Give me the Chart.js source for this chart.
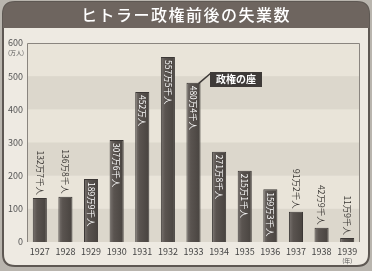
<!DOCTYPE html>
<html>
<head>
<meta charset="utf-8">
<script src="https://cdn.jsdelivr.net/npm/chart.js@4"></script>
<style>
  html, body { margin: 0; padding: 0; background: #b9b5ae; }
  #wrap { width: 372px; height: 271px; }
</style>
</head>
<body>
<div id="wrap"><canvas id="chart" width="372" height="271"></canvas></div>
<script>
const years = ['1927', '1928', '1929', '1930', '1931', '1932', '1933', '1934', '1935', '1936', '1937', '1938', '1939'];
const unemployed = [132.7, 136.8, 189.9, 307.6, 452, 557.5, 480.4, 271.8, 215.1, 159.3, 91.2, 42.9, 11.9];
const valueLabels = ['132万7千人', '136万8千人', '189万9千人', '307万6千人', '452万人', '557万5千人', '480万4千人',
  '271万8千人', '215万1千人', '159万3千人', '91万2千人', '42万9千人', '11万9千人'];
const labelInside = [false, false, true, true, true, true, true, true, true, true, false, false, false];
const yTicks = [0, 100, 200, 300, 400, 500, 600];

const FONT = '"Noto Sans CJK JP", "DejaVu Sans", sans-serif';

function roundRect(c, x, y, w, h, r) {
  c.beginPath();
  c.moveTo(x + r.tl, y);
  c.lineTo(x + w - r.tr, y);
  c.quadraticCurveTo(x + w, y, x + w, y + r.tr);
  c.lineTo(x + w, y + h - r.br);
  c.quadraticCurveTo(x + w, y + h, x + w - r.br, y + h);
  c.lineTo(x + r.bl, y + h);
  c.quadraticCurveTo(x, y + h, x, y + h - r.bl);
  c.lineTo(x, y + r.tl);
  c.quadraticCurveTo(x, y, x + r.tl, y);
  c.closePath();
}

function barFill(ctx) {
  const chart = ctx.chart;
  const xs = chart.scales && chart.scales.x;
  if (!xs || ctx.dataIndex === undefined || !chart.chartArea) return '#55504c';
  const cx = xs.getPixelForValue(ctx.dataIndex);
  const g = chart.ctx.createLinearGradient(cx - 7, 0, cx + 7, 0);
  g.addColorStop(0, '#7a7470');
  g.addColorStop(0.3, '#5a5450');
  g.addColorStop(1, '#48433f');
  return g;
}

const framePlugin = {
  id: 'frame',
  beforeDraw(chart) {
    const c = chart.ctx;
    const { left, right, top, bottom } = chart.chartArea;
    const y = chart.scales.y;
    c.save();
    c.fillStyle = '#b9b5ae';
    c.fillRect(0, 0, chart.width, chart.height);
    roundRect(c, 3, 2, 366, 264, { tl: 12, tr: 12, bl: 12, br: 12 });
    c.fillStyle = '#eeeae2';
    c.fill();
    c.lineWidth = 2;
    c.strokeStyle = '#5e5853';
    c.stroke();
    roundRect(c, 3, 2, 366, 26, { tl: 12, tr: 12, bl: 0, br: 0 });
    c.fillStyle = '#6e655f';
    c.fill();
    c.fillStyle = '#ffffff';
    c.font = '500 16px ' + FONT;
    c.letterSpacing = '1.5px';
    c.textAlign = 'center';
    c.textBaseline = 'middle';
    c.fillText('ヒトラー政権前後の失業数', 186, 15);
    c.letterSpacing = '0px';
    c.fillStyle = '#e9e4d9';
    c.fillRect(left, top, right - left, bottom - top);
    c.fillStyle = '#dcd7cc';
    [[400, 500], [200, 300], [0, 100]].forEach(([a, b]) => {
      const y1 = y.getPixelForValue(b), y2 = y.getPixelForValue(a);
      c.fillRect(left, y1, right - left, y2 - y1);
    });
    c.strokeStyle = '#8a857f';
    c.lineWidth = 1;
    c.beginPath();
    c.moveTo(left + 0.5, bottom);
    c.lineTo(left + 0.5, top + 0.5);
    c.lineTo(right - 0.5, top + 0.5);
    c.lineTo(right - 0.5, bottom);
    c.stroke();
    c.restore();
  },
  afterDraw(chart) {
    const c = chart.ctx;
    const meta = chart.getDatasetMeta(0);
    c.save();
    c.font = '8.5px ' + FONT;
    c.textBaseline = 'middle';
    meta.data.forEach((bar, i) => {
      c.save();
      c.translate(bar.x, bar.y);
      c.rotate(Math.PI / 2);
      if (labelInside[i]) {
        c.fillStyle = '#ffffff';
        c.textAlign = 'left';
        c.fillText(valueLabels[i], 3, 0);
      } else {
        c.fillStyle = '#3b3835';
        c.textAlign = 'right';
        c.fillText(valueLabels[i], -3, 0);
      }
      c.restore();
    });
    c.fillStyle = '#555';
    c.font = '6px ' + FONT;
    c.textAlign = 'center';
    c.fillText('(万人)', 16, 53);
    const xs = chart.scales.x;
    c.fillText('(年)', xs.getPixelForValue(12), 261);
    // annotation
    const b = meta.data[6];
    c.strokeStyle = '#3e3a38';
    c.lineWidth = 1.5;
    c.beginPath();
    c.moveTo(b.x + 5, b.y + 1);
    c.lineTo(211, 73);
    c.stroke();
    c.fillStyle = '#3e3a38';
    c.fillRect(210, 72, 52, 15);
    c.fillStyle = '#ffffff';
    c.font = 'bold 10px ' + FONT;
    c.fillText('政権の座', 236, 79.5);
    c.restore();
  }
};

new Chart(document.getElementById('chart'), {
  type: 'bar',
  data: {
    labels: years,
    datasets: [{
      data: unemployed,
      backgroundColor: barFill,
      borderColor: '#3b3735',
      borderWidth: 1,
      barPercentage: 0.55,
      categoryPercentage: 1
    }]
  },
  options: {
    responsive: false,
    animation: false,
    devicePixelRatio: 1,
    layout: { padding: { left: 0, right: 12, top: 43, bottom: 0 } },
    plugins: { legend: { display: false }, tooltip: { enabled: false } },
    scales: {
      x: {
        grid: { display: false, drawTicks: false },
        border: { display: false },
        ticks: { color: '#444', font: { size: 9, family: FONT }, padding: 4, maxRotation: 0, autoSkip: false },
        afterFit(s) { s.height = 29; }
      },
      y: {
        min: 0,
        max: 600,
        afterBuildTicks(s) { s.ticks = yTicks.map(v => ({ value: v })); },
        grid: { display: false, drawTicks: false },
        border: { display: false },
        ticks: { color: '#555', font: { size: 9, family: FONT }, padding: 4 },
        afterFit(s) { s.width = 27; }
      }
    }
  },
  plugins: [framePlugin]
});
</script>
</body>
</html>
